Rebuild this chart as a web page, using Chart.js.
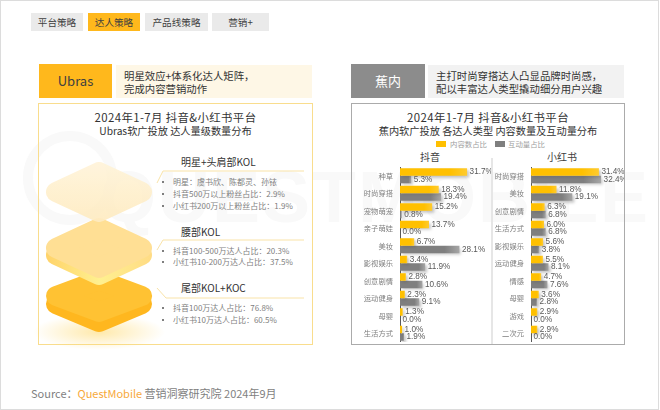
<!DOCTYPE html>
<html>
<head>
<meta charset="utf-8">
<script src="https://cdn.jsdelivr.net/npm/chart.js@4"></script>
<style>
  html, body { margin: 0; padding: 0; background: #fff; }
  body { width: 660px; height: 410px; position: relative; overflow: hidden; font-family: "Noto Sans CJK SC", "Noto Sans", sans-serif; color: #404040; }
  .abs { position: absolute; white-space: nowrap; }
  .frame { position: absolute; left: 0; top: 0; width: 657px; height: 408px; border: 1px solid #dcdcdc; }
  .tab { position: absolute; top: 13px; height: 18px; line-height: 18px; text-align: center; font-size: 9.6px; background: #eaeaea; color: #404040; }
  .tab.on { background: #FFB81C; }
  .head { position: absolute; top: 64px; height: 34px; line-height: 34px; text-align: center; font-size: 13px; }
  .desc { position: absolute; top: 65px; height: 33px; width: 196px; font-size: 10.4px; line-height: 13px; color: #333; box-sizing: border-box; padding: 4px 0 0 8px; white-space: nowrap; }
  .box { position: absolute; top: 103px; height: 242px; box-sizing: border-box; border: 1px solid; }
  .title { position: absolute; top: 111px; text-align: center; font-size: 10.2px; line-height: 13px; color: #333; white-space: nowrap; }
  .title span { font-size: 11.4px; letter-spacing: 0.4px; }
  .kol { position: absolute; left: 181px; font-size: 10px; color: #333; line-height: 14px; }
  .item { position: absolute; left: 173px; font-size: 8px; color: #808080; line-height: 12px; white-space: nowrap; }
  .item::before { content: ""; position: absolute; left: -11px; top: 5px; width: 2px; height: 2px; border-radius: 50%; background: #555; }
  .watermark { position: absolute; left: 100px; top: 155px; font-size: 72px; line-height: 84px; letter-spacing: 2px; font-weight: 700; color: #f9f9f9; white-space: nowrap; font-family: "Liberation Sans", sans-serif; }
  .swatch { position: absolute; top: 141px; width: 10px; height: 6px; }
  .legend { position: absolute; top: 138px; font-size: 7.4px; line-height: 12px; color: #a0a0a0; }
  .sub { position: absolute; top: 150px; font-size: 10px; line-height: 14px; color: #404040; text-align: center; }
  canvas.chart { position: absolute; top: 167px; }
  svg { position: absolute; left: 0; top: 0; }
</style>
</head>
<body>
<div class="frame"></div>
<svg width="660" height="410" viewBox="0 0 660 410">
  <circle cx="70" cy="178" r="42" fill="none" stroke="#f9f9f9" stroke-width="10"/>
</svg>
<div class="watermark">QUESTMOBILE</div>

<div class="tab" style="left:31px;width:52px">平台策略</div>
<div class="tab on" style="left:88px;width:52px">达人策略</div>
<div class="tab" style="left:145px;width:63px">产品线策略</div>
<div class="tab" style="left:212px;width:57px">营销+</div>

<div class="head" style="left:39px;width:73px;background:#FFB81C;color:#404040">Ubras</div>
<div class="desc" style="left:116px;background:#FEF7E6">明星效应+体系化达人矩阵，<br>完成内容营销动作</div>
<div class="box" style="left:38px;width:275px;border-color:#F9DD8D"></div>
<div class="title" style="left:38px;width:275px"><span>2024年1-7月 抖音&amp;小红书平台</span><br>Ubras软广投放 达人量级数量分布</div>

<svg width="660" height="410" viewBox="0 0 660 410">
  <defs>
    <radialGradient id="glow" cx="50%" cy="50%" r="50%">
      <stop offset="0%" stop-color="#FFD766" stop-opacity="0.55"/>
      <stop offset="100%" stop-color="#FFD766" stop-opacity="0"/>
    </radialGradient>
    <linearGradient id="midSide" gradientUnits="userSpaceOnUse" x1="46" x2="153" y1="0" y2="0">
      <stop offset="0%" stop-color="#FFD36A"/>
      <stop offset="50%" stop-color="#FFF08F"/>
      <stop offset="100%" stop-color="#FFDB85"/>
    </linearGradient>
    <linearGradient id="topFade" gradientUnits="userSpaceOnUse" x1="0" x2="0" y1="162" y2="224">
      <stop offset="0%" stop-color="#FFF4DA"/>
      <stop offset="100%" stop-color="#FEEBC0"/>
    </linearGradient>
  </defs>
  <ellipse cx="99" cy="332" rx="66" ry="18" fill="url(#glow)"/>
  <!-- bottom layer -->
  <path d="M99 286 L142 304 L99 322 L56 304 Z" fill="#FFB71F" stroke="#FFB71F" stroke-width="20" stroke-linejoin="round"/>
  <path d="M99 280 L142 296 L99 312 L56 296 Z" fill="#FFC233" stroke="#FFC233" stroke-width="20" stroke-linejoin="round"/>
  <!-- middle layer -->
  <path d="M99 235 L142 255 L99 275 L56 255 Z" fill="url(#midSide)" stroke="url(#midSide)" stroke-width="20" stroke-linejoin="round"/>
  <path d="M99 228 L142 248 L99 268 L56 248 Z" fill="#FFDF94" stroke="#FFDF94" stroke-width="20" stroke-linejoin="round"/>
  <!-- top layer -->
  <path d="M99 172 L142 192 L99 212 L56 192 Z" fill="url(#topFade)" stroke="url(#topFade)" stroke-width="20" stroke-linejoin="round" opacity="0.92"/>
  <!-- connector lines -->
  <path d="M157 183 L163 171 L304 171" fill="none" stroke="#F9E3A8" stroke-width="1"/>
  <path d="M157 250 L163 240 L304 240" fill="none" stroke="#F9E3A8" stroke-width="1"/>
  <path d="M157 288 L166 298 L304 298" fill="none" stroke="#F9E3A8" stroke-width="1"/>
</svg>

<div class="kol" style="top:155px">明星+头肩部KOL</div>
<div class="item" style="top:176px">明星：虞书欣、陈都灵、孙铱</div>
<div class="item" style="top:188px">抖音500万以上粉丝占比：2.9%</div>
<div class="item" style="top:200px">小红书200万以上粉丝占比：1.9%</div>
<div class="kol" style="top:225px">腰部KOL</div>
<div class="item" style="top:245px">抖音100-500万达人占比：20.3%</div>
<div class="item" style="top:256px">小红书10-200万达人占比：37.5%</div>
<div class="kol" style="top:281px">尾部KOL+KOC</div>
<div class="item" style="top:302px">抖音100万达人占比：76.8%</div>
<div class="item" style="top:314px">小红书10万达人占比：60.5%</div>

<div class="head" style="left:351px;width:74px;background:#8C8C8C;color:#fff">蕉内</div>
<div class="desc" style="left:428px;background:#F2F2F2">主打时尚穿搭达人凸显品牌时尚感，<br>配以丰富达人类型撬动细分用户兴趣</div>
<div class="box" style="left:351px;width:274px;border-color:#ABABAB"></div>
<div class="title" style="left:351px;width:274px"><span>2024年1-7月 抖音&amp;小红书平台</span><br>蕉内软广投放 各达人类型 内容数量及互动量分布</div>
<div class="swatch" style="left:436px;background:#FFC000"></div>
<div class="legend" style="left:450px">内容数占比</div>
<div class="swatch" style="left:495px;background:#7F7F7F"></div>
<div class="legend" style="left:508px">互动量占比</div>
<div class="sub" style="left:400px;width:60px">抖音</div>
<div class="sub" style="left:532px;width:60px">小红书</div>
<div class="abs" style="left:491px;top:158px;width:2px;height:186px;background:#e6e6e6"></div>

<canvas id="douyin-chart" class="chart" width="139" height="175" style="left:352px"></canvas>
<canvas id="xhs-chart" class="chart" width="131" height="175" style="left:493px"></canvas>

<div class="abs" style="left:31px;top:386px;font-size:11px;line-height:14px;color:#7f7f7f">Source：<span style="color:#F7A93B">QuestMobile</span> 营销洞察研究院 2024年9月</div>

<script>
const douyinCategories = ['种草', '时尚穿搭', '宠物萌宠', '亲子萌娃', '美妆', '影视娱乐', '创意剧情', '运动健身', '母婴', '生活方式'];
const douyinContent = [31.7, 18.3, 15.2, 13.7, 6.7, 3.4, 2.8, 2.3, 1.3, 1.0];
const douyinEngagement = [5.3, 19.4, 0.8, 0.0, 28.1, 11.9, 10.6, 9.1, 0.0, 1.9];

const xhsCategories = ['时尚穿搭', '美妆', '创意剧情', '生活方式', '影视娱乐', '运动健身', '情感', '母婴', '游戏', '二次元'];
const xhsContent = [31.4, 11.8, 6.3, 6.0, 5.6, 5.5, 4.7, 3.6, 2.9, 2.9];
const xhsEngagement = [32.4, 19.1, 6.8, 6.8, 3.8, 8.1, 7.6, 2.8, 0.0, 0.0];

const seriesNames = ['内容数占比', '互动量占比'];

// soft shadow under each bar, and the value printed after the bar end
const barExtras = {
    id: 'barExtras',
    beforeDatasetDraw(chart) {
        const ctx = chart.ctx;
        ctx.save();
        ctx.shadowColor = 'rgba(90,90,90,0.35)';
        ctx.shadowBlur = 3;
        ctx.shadowOffsetX = 2;
        ctx.shadowOffsetY = 2;
    },
    afterDatasetDraw(chart) {
        chart.ctx.restore();
    },
    afterDatasetsDraw(chart) {
        const ctx = chart.ctx;
        ctx.save();
        ctx.font = '8.2px "Liberation Sans", "Noto Sans", sans-serif';
        ctx.fillStyle = '#595959';
        ctx.textBaseline = 'middle';
        chart.data.datasets.forEach((dataset, i) => {
            chart.getDatasetMeta(i).data.forEach((bar, j) => {
                ctx.fillText(dataset.data[j].toFixed(1) + '%', bar.x + 2.5, bar.y);
            });
        });
        ctx.restore();
    }
};

function barFill(context, from, to) {
    const chart = context.chart;
    if (!chart.chartArea || context.parsed === undefined) return from;
    const start = chart.scales.x.getPixelForValue(0);
    const end = chart.scales.x.getPixelForValue(context.parsed.x);
    if (end - start < 1) return from;
    const gradient = chart.ctx.createLinearGradient(start, 0, end, 0);
    gradient.addColorStop(0, from);
    gradient.addColorStop(0.75, from);
    gradient.addColorStop(1, to);
    return gradient;
}

function drawPlatform(id, categories, content, engagement, labelWidth, maxValue) {
    return new Chart(document.getElementById(id), {
        type: 'bar',
        data: {
            labels: categories,
            datasets: [
                { label: seriesNames[0], data: content, backgroundColor: c => barFill(c, '#FFC000', '#FFCB2E') },
                { label: seriesNames[1], data: engagement, backgroundColor: c => barFill(c, '#7F7F7F', '#A6A6A6') }
            ]
        },
        options: {
            indexAxis: 'y',
            responsive: false,
            animation: false,
            layout: { padding: 0 },
            datasets: { bar: { categoryPercentage: 0.86, barPercentage: 1 } },
            plugins: { legend: { display: false }, tooltip: { enabled: false } },
            scales: {
                x: { display: false, min: 0, max: maxValue },
                y: {
                    grid: { display: false, drawTicks: false },
                    border: { display: true, color: '#595959', width: 1 },
                    // fixed label column, and no extra inset above and below the rows
                    afterFit(axis) {
                        axis.width = labelWidth;
                        axis.paddingTop = 0;
                        axis.paddingBottom = 0;
                    },
                    ticks: {
                        autoSkip: false,
                        padding: 7,
                        color: '#7f7f7f',
                        font: { size: 7.3, family: '"Noto Sans CJK SC", sans-serif' }
                    }
                }
            }
        },
        plugins: [barExtras]
    });
}

drawPlatform('douyin-chart', douyinCategories, douyinContent, douyinEngagement, 48, 43);
drawPlatform('xhs-chart', xhsCategories, xhsContent, xhsEngagement, 38, 43);
</script>
</body>
</html>
